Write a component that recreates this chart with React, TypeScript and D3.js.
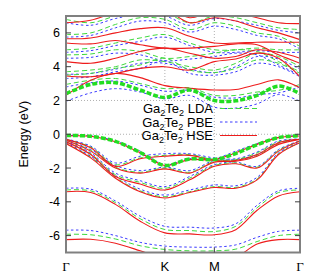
import React from "react";
import * as d3 from "d3";

// k-path sample points (units of pi/a): Γ -> K -> M -> Γ
const kPoints = [0, 0.333, 0.667, 1.0, 1.333, 1.667, 2.0, 2.289, 2.577, 2.866, 3.155];
const kTickPos = [0, 1.333, 2.0, 3.155];
const kTickLabels = ["Γ", "K", "M", "Γ"];
const eTicks = [-6, -4, -2, 0, 2, 4, 6];
const gridE = [0, 2];
const gridK = [1.333, 2.0];

// HSE (red solid)
const hseBands = [
  [-0.1, -0.12, -0.45, -1.1, -1.85, -1.5, -1.5, -1.1, -0.6, -0.2, -0.1],
  [-0.3, -0.8, -1.9, -1.45, -1.3, -1.25, -1.55, -1.55, -1.2, -0.5, -0.3],
  [-0.35, -1.0, -2.0, -2.3, -2.05, -2.3, -1.65, -1.6, -1.3, -0.6, -0.3],
  [-0.45, -1.2, -2.5, -2.95, -3.3, -2.7, -1.9, -1.75, -2.0, -1.0, -0.4],
  [-0.55, -1.4, -2.6, -3.4, -3.77, -3.45, -3.15, -3.2, -2.7, -1.2, -0.5],
  [-3.4, -3.45, -4.15, -5.15, -5.84, -5.9, -5.95, -5.65, -4.5, -3.65, -3.4],
  [-6.24, -6.22, -6.45, -6.9, -7.4, -7.6, -7.6, -7.3, -6.5, -6.24, -6.24],
  [2.3, 3.2, 3.6, 3.35, 2.88, 2.72, 2.62, 2.65, 2.95, 3.22, 2.75],
  [3.45, 3.4, 3.6, 3.9, 4.0, 3.8, 4.3, 4.45, 4.8, 4.5, 3.4],
  [4.3, 4.2, 4.5, 4.9, 5.1, 4.8, 4.5, 4.6, 5.0, 4.85, 4.5],
  [5.4, 5.35, 5.55, 5.3, 5.1, 5.1, 5.2, 5.35, 5.3, 4.7, 4.2],
  [5.65, 5.7, 6.0, 6.25, 6.3, 5.8, 5.4, 5.4, 5.45, 5.45, 5.45],
  [6.6, 6.75, 7.2, 7.5, 7.4, 6.6, 6.9, 6.7, 6.3, 6.0, 5.6],
  [7.4, 7.3, 7.6, 7.8, 7.6, 6.9, 7.3, 7.2, 6.9, 6.6, 6.55],
];

// PBE (blue dotted)
const pbeBands = [
  [-0.08, -0.1, -0.4, -1.0, -1.8, -1.45, -1.45, -1.0, -0.55, -0.18, -0.08],
  [-0.28, -0.7, -1.7, -1.3, -1.15, -1.15, -1.4, -1.45, -1.05, -0.4, -0.28],
  [-0.33, -0.9, -1.85, -2.15, -1.95, -2.15, -1.55, -1.5, -1.2, -0.5, -0.3],
  [-0.42, -1.1, -2.3, -2.75, -3.1, -2.5, -1.8, -1.65, -1.9, -0.9, -0.38],
  [-0.5, -1.3, -2.45, -3.25, -3.6, -3.3, -3.0, -3.05, -2.55, -1.1, -0.48],
  [-3.2, -3.25, -3.95, -4.85, -5.45, -5.5, -5.55, -5.3, -4.2, -3.35, -3.2],
  [-5.68, -5.7, -6.0, -6.4, -6.62, -6.68, -6.68, -6.55, -6.1, -5.75, -5.68],
  [1.95, 2.45, 2.7, 2.5, 2.1, 2.3, 1.6, 1.55, 1.8, 2.35, 1.95],
  [2.8, 3.05, 3.15, 2.9, 2.55, 2.6, 2.2, 2.15, 2.35, 2.45, 2.8],
  [3.3, 3.4, 3.7, 3.9, 4.35, 3.6, 3.5, 3.7, 4.2, 4.0, 3.4],
  [3.55, 3.6, 3.85, 4.2, 4.2, 3.85, 3.65, 4.0, 4.6, 4.45, 3.85],
  [4.5, 4.55, 4.8, 4.7, 4.35, 4.45, 4.6, 4.8, 4.7, 4.1, 3.5],
  [4.85, 4.95, 5.25, 5.5, 5.75, 5.25, 4.85, 4.85, 4.95, 4.85, 4.85],
  [5.75, 5.85, 6.3, 6.7, 6.6, 6.05, 6.4, 6.2, 5.85, 5.65, 5.05],
  [6.6, 6.45, 6.85, 7.1, 7.0, 6.45, 6.85, 6.7, 6.45, 6.15, 6.0],
];

// LDA (green dashed)
const ldaBands = [
  [-0.3, -0.75, -1.8, -1.4, -1.25, -1.2, -1.5, -1.5, -1.1, -0.45, -0.3],
  [-0.35, -0.95, -1.95, -2.25, -2.0, -2.25, -1.6, -1.55, -1.25, -0.55, -0.3],
  [-0.45, -1.15, -2.4, -2.85, -3.2, -2.6, -1.85, -1.7, -1.95, -0.95, -0.4],
  [-0.55, -1.35, -2.55, -3.35, -3.7, -3.4, -3.1, -3.15, -2.65, -1.15, -0.5],
  [-3.3, -3.35, -4.05, -5.0, -5.64, -5.7, -5.76, -5.45, -4.35, -3.45, -3.3],
  [-5.92, -5.95, -6.2, -6.6, -6.82, -6.9, -6.9, -6.8, -6.35, -6.0, -5.92],
  [2.95, 3.2, 3.3, 3.0, 2.7, 2.75, 2.3, 2.3, 2.5, 2.6, 2.95],
  [3.5, 3.6, 3.9, 4.1, 4.5, 3.8, 3.65, 3.9, 4.4, 4.2, 3.6],
  [3.7, 3.8, 4.0, 4.4, 4.3, 4.0, 3.8, 4.2, 4.8, 4.6, 4.0],
  [4.7, 4.75, 5.0, 4.9, 4.5, 4.6, 4.8, 5.0, 4.9, 4.3, 3.7],
  [5.0, 5.1, 5.4, 5.7, 5.9, 5.4, 5.0, 5.0, 5.1, 5.0, 5.0],
  [5.9, 6.0, 6.5, 6.9, 6.8, 6.2, 6.6, 6.4, 6.0, 5.8, 5.2],
  [6.8, 6.6, 7.0, 7.3, 7.2, 6.6, 7.0, 6.9, 6.6, 6.3, 6.2],
];

// band edges highlighted (thick green dashed)
const edgeBands = [
  [-0.08, -0.12, -0.42, -1.08, -1.85, -1.46, -1.5, -1.14, -0.62, -0.2, -0.08],
  [2.4, 2.95, 3.05, 2.62, 2.18, 2.62, 2.0, 1.98, 2.3, 2.85, 2.4],
];

const legendNames = ["LDA", "PBE", "HSE"];

export default function App() {
  const W = 320, H = 280;
  const L = 66, R = 300, T = 16, B = 252.5;
  const x = d3.scaleLinear().domain([0, 3.155]).range([L, R]);
  const y = d3.scaleLinear().domain([-7, 7]).range([B, T]);
  const line = d3
    .line<number>()
    .x((_, i) => x(kPoints[i]))
    .y((d) => y(d))
    .curve(d3.curveCatmullRom.alpha(0.5));

  const styles = [
    { color: "#3dd83d", dash: "5,3", width: 1 },
    { color: "#3a3aff", dash: "2.5,2.5", width: 1 },
    { color: "#ee1c1c", dash: "none", width: 1.1 },
  ];
  const font = "'Liberation Sans', Arial, sans-serif";
  const legendY = [108.5, 122, 135.5];

  return (
    <svg width={W} height={H} style={{ position: "absolute", left: 0, top: 0 }} fontFamily={font}>
      <rect width={W} height={H} fill="#fff" />
      <defs>
        <clipPath id="plot">
          <rect x={L} y={T} width={R - L} height={B - T} />
        </clipPath>
      </defs>
      {gridE.map((e) => (
        <line key={"ge" + e} x1={L} x2={R} y1={y(e)} y2={y(e)} stroke="#b0b0b0" strokeDasharray="1,2" strokeWidth={1} />
      ))}
      {gridK.map((k) => (
        <line key={"gk" + k} x1={x(k)} x2={x(k)} y1={T} y2={B} stroke="#b0b0b0" strokeDasharray="1,2" strokeWidth={1} />
      ))}
      <g clipPath="url(#plot)" fill="none">
        {pbeBands.map((b, i) => (
          <path key={"p" + i} d={line(b) || ""} stroke={styles[1].color} strokeDasharray={styles[1].dash} strokeWidth={styles[1].width} />
        ))}
        {ldaBands.map((b, i) => (
          <path key={"l" + i} d={line(b) || ""} stroke={styles[0].color} strokeDasharray={styles[0].dash} strokeWidth={styles[0].width} />
        ))}
        {hseBands.map((b, i) => (
          <path key={"h" + i} d={line(b) || ""} stroke={styles[2].color} strokeWidth={styles[2].width} />
        ))}
        {edgeBands.map((b, i) => (
          <path key={"e" + i} d={line(b) || ""} stroke="#22dd22" strokeDasharray="5,2" strokeWidth={3.5} />
        ))}
      </g>
      {/* legend */}
      {legendNames.map((n, i) => (
        <g key={n}>
          <text x={213} y={legendY[i] + 4.5} textAnchor="end" fontSize={13} fill="#000">
            Ga<tspan fontSize={9} dy={3}>2</tspan>
            <tspan dy={-3}>Te</tspan>
            <tspan fontSize={9} dy={3}>2</tspan>
            <tspan dy={-3}> {n}</tspan>
          </text>
          <line x1={220} x2={257} y1={legendY[i]} y2={legendY[i]} stroke={styles[i].color} strokeDasharray={styles[i].dash} strokeWidth={styles[i].width} />
        </g>
      ))}
      {/* frame */}
      <rect x={L} y={T} width={R - L} height={B - T} fill="none" stroke="#808080" strokeWidth={2} />
      {eTicks.map((e) => (
        <g key={"t" + e}>
          <line x1={L} x2={L + 5} y1={y(e)} y2={y(e)} stroke="#404040" />
          <line x1={R - 5} x2={R} y1={y(e)} y2={y(e)} stroke="#404040" />
          <text x={60} y={y(e) + 4.5} textAnchor="end" fontSize={12.5} fill="#000">
            {e}
          </text>
        </g>
      ))}
      {kTickPos.map((k, i) => (
        <g key={"k" + i}>
          {i > 0 && i < kTickPos.length - 1 && (
            <>
              <line x1={x(k)} x2={x(k)} y1={B} y2={B - 5} stroke="#404040" />
              <line x1={x(k)} x2={x(k)} y1={T} y2={T + 5} stroke="#404040" />
            </>
          )}
          <text
            x={x(k)}
            y={271}
            textAnchor="middle"
            fontSize={13}
            fontFamily={k === 0 || i === kTickPos.length - 1 ? "'Liberation Serif', 'Times New Roman', serif" : font}
            fill="#000"
          >
            {kTickLabels[i]}
          </text>
        </g>
      ))}
      <text transform={`translate(28,${y(0)}) rotate(-90)`} textAnchor="middle" fontSize={12.5} fill="#000">
        Energy (eV)
      </text>
    </svg>
  );
}
